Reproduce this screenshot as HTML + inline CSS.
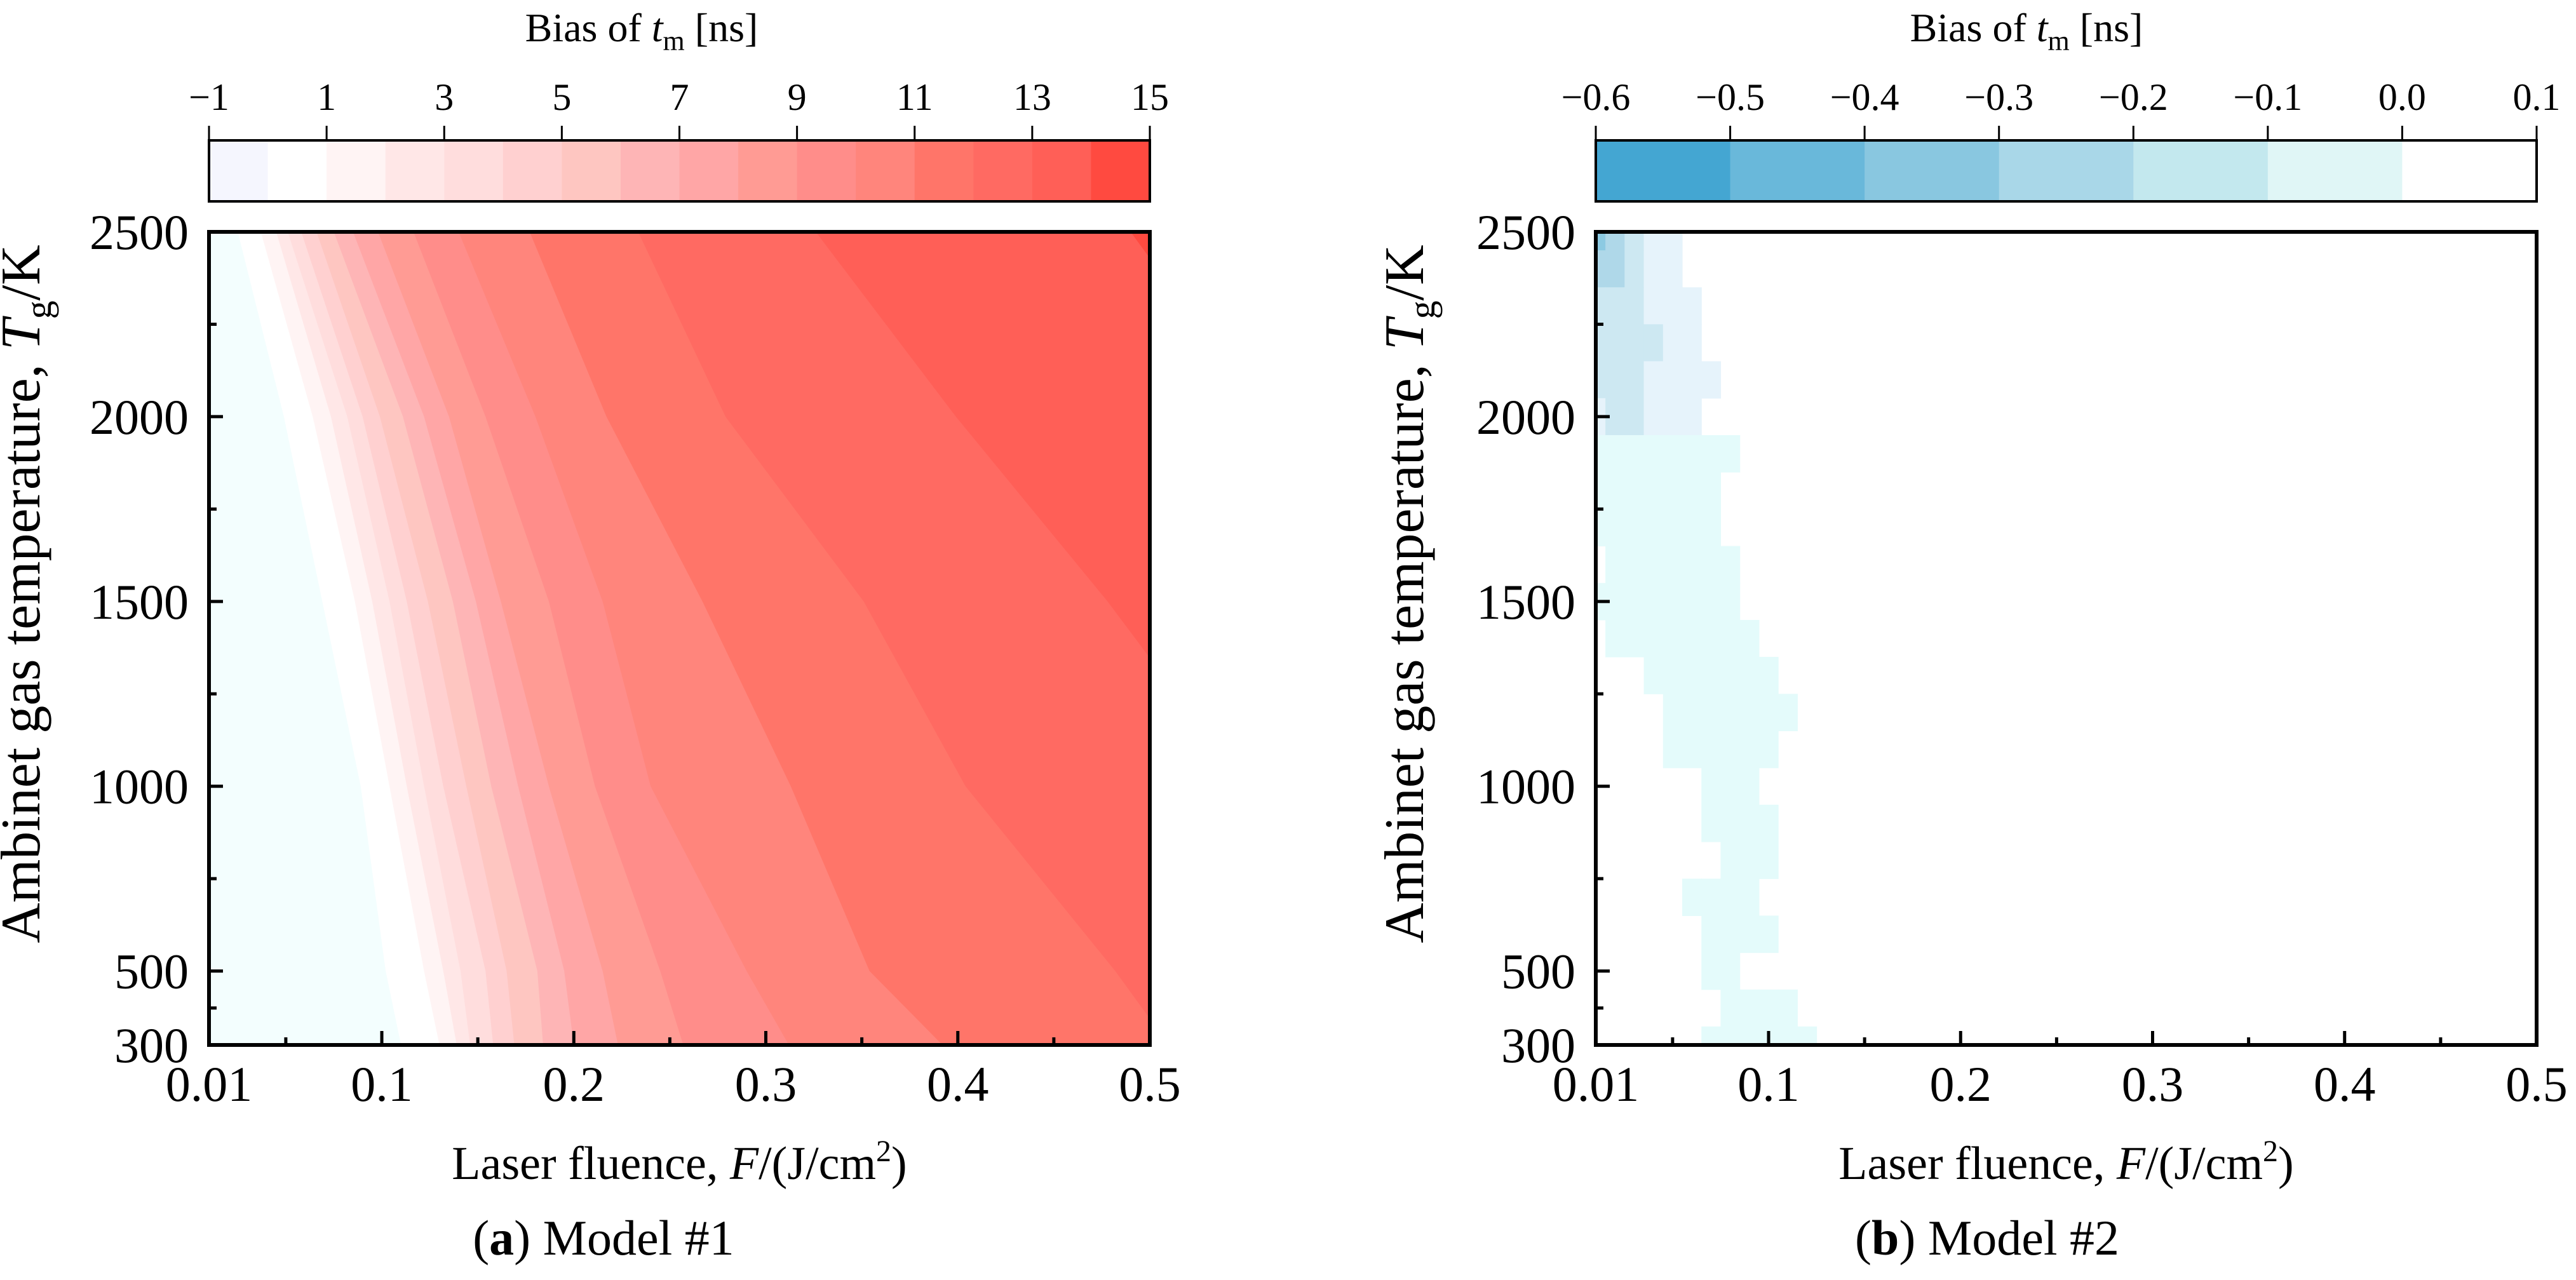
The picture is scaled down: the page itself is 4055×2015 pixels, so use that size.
<!DOCTYPE html>
<html><head><meta charset="utf-8">
<style>
html,body{margin:0;padding:0;background:#fff;}
svg{display:block;font-family:"Liberation Serif",serif;}
text{font-family:"Liberation Serif",serif;}
</style></head>
<body>
<svg id="fig" width="4055" height="2015" viewBox="0 0 4055 2015" xmlns="http://www.w3.org/2000/svg" font-family="Liberation Serif, serif">
<defs>
<clipPath id="clipL"><rect x="329" y="365" width="1481" height="1280"/></clipPath>
<clipPath id="clipR"><rect x="2512" y="365" width="1481" height="1280"/></clipPath>
</defs>
<g id="left"></g>
<g id="right"></g>
</svg>
<script>
// ---------- data: panel (a) contour boundaries ----------
const boundaryT = [2500, 2000, 1500, 1000, 500, 300];
const boundaryLevels = [0,1,2,3,4,5,6,7,8,9,10,11,12,13,14];
const b0 = [0.025,0.049,0.069,0.089,0.102,0.110];
const b1 = [0.037,0.064,0.086,0.104,0.122,0.130];
const b2 = [0.045,0.0735,0.095,0.113,0.132,0.139];
const b3 = [0.051,0.082,0.104,0.122,0.141,0.146];
const b4 = [0.058,0.090,0.113,0.132,0.154,0.158];
const b5 = [0.066,0.099,0.124,0.144,0.165,0.169];
const b6 = [0.075,0.111,0.137,0.157,0.181,0.184];
const b7 = [0.085,0.122,0.149,0.171,0.195,0.200];
const b8 = [0.098,0.135,0.162,0.187,0.215,0.223];
const b9 = [0.1165,0.154,0.187,0.211,0.245,0.257];
const b10 = [0.140,0.180,0.215,0.240,0.290,0.312];
const b11 = [0.177,0.217,0.267,0.313,0.354,0.392];
const b12 = [0.2335,0.279,0.351,0.404,0.482,0.510];
const b13 = [0.326,0.399,0.478,0.550,0.620,0.650];
const b14 = [0.490,0.560,0.630,0.700,0.770,0.800];
const boundaries = [b0,b1,b2,b3,b4,b5,b6,b7,b8,b9,b10,b11,b12,b13,b14];
const colorsA = ['#f5f6fe','#ffffff','#fff4f4','#ffe7e7','#ffdddd','#ffd0d0','#fec6c1','#feb5b6','#ffa6a6','#ff9b94','#ff8d8a','#ff857c','#ff7569','#ff6a62','#ff5f57','#ff4a40'];
const cbTicksA = [-1,1,3,5,7,9,11,13,15];
// ---------- data: panel (b) grid ----------
const fGrid = [0.01,0.02,0.03,0.04,0.05,0.06,0.07,0.08,0.09,0.10,0.11,0.12];
const tGrid = [2500,2400,2300,2200,2100,2000,1900,1800,1700,1600,1500,1400,1300,1200,1100,1000,900,800,700,600,500,400,300];
const r2500=[-0.35,-0.25,-0.15,-0.08,-0.08,0,0,0,0,0,0,0];
const r2400=[-0.3,-0.22,-0.15,-0.08,-0.08,0,0,0,0,0,0,0];
const r2300=[-0.2,-0.15,-0.15,-0.08,-0.08,-0.06,0,0,0,0,0,0];
const r2200=[-0.15,-0.12,-0.12,-0.12,-0.08,-0.08,0,0,0,0,0,0];
const r2100=[-0.15,-0.15,-0.15,-0.08,-0.08,-0.08,-0.08,0,0,0,0,0];
const r2000=[-0.08,-0.12,-0.12,-0.08,-0.08,-0.06,0,0,0,0,0,0];
const r1900=[-0.04,-0.04,-0.04,-0.04,-0.04,-0.04,-0.04,-0.04,0,0,0,0];
const r1800=[-0.04,-0.04,-0.04,-0.04,-0.04,-0.04,-0.04,0,0,0,0,0];
const r1700=[-0.04,-0.04,-0.04,-0.04,-0.04,-0.04,-0.04,0,0,0,0,0];
const r1600=[0,-0.04,-0.04,-0.04,-0.04,-0.04,-0.04,-0.04,0,0,0,0];
const r1500=[-0.04,-0.04,-0.04,-0.04,-0.04,-0.04,-0.04,-0.04,0,0,0,0];
const r1400=[0,-0.04,-0.04,-0.04,-0.04,-0.04,-0.04,-0.04,-0.04,0,0,0];
const r1300=[0,0,0,-0.04,-0.04,-0.04,-0.04,-0.04,-0.04,-0.04,0,0];
const r1200=[0,0,0,0,-0.04,-0.04,-0.04,-0.04,-0.04,-0.04,-0.04,0];
const r1100=[0,0,0,0,-0.04,-0.04,-0.04,-0.04,-0.04,-0.04,0,0];
const r1000=[0,0,0,0,0,0,-0.04,-0.04,-0.04,0,0,0];
const r900=[0,0,0,0,0,0,-0.04,-0.04,-0.04,-0.04,0,0];
const r800=[0,0,0,0,0,0,0,-0.04,-0.04,-0.04,0,0];
const r700=[0,0,0,0,0,-0.04,-0.04,-0.04,-0.04,0,0,0];
const r600=[0,0,0,0,0,0,-0.04,-0.04,-0.04,-0.04,0,0];
const r500=[0,0,0,0,0,0,-0.04,-0.04,0,0,0,0];
const r400=[0,0,0,0,0,0,0,-0.04,-0.04,-0.04,-0.04,0];
const r300=[0,0,0,0,0,0,-0.04,-0.04,-0.04,-0.04,-0.04,-0.04];
const gridB=[r2500,r2400,r2300,r2200,r2100,r2000,r1900,r1800,r1700,r1600,r1500,r1400,r1300,r1200,r1100,r1000,r900,r800,r700,r600,r500,r400,r300];
const colorsB = ['#44a6d2','#69b8da','#89c7e0','#a9d7e8','#c3e8ee','#e0f6f6','#ffffff'];
const cbTicksB = ['\u22120.6','\u22120.5','\u22120.4','\u22120.3','\u22120.2','\u22120.1','0.0','0.1'];
const xTickVals = [0.1,0.2,0.3,0.4,0.5];
const xMinorVals = [0.05,0.15,0.25,0.35,0.45];
const yTickVals = [500,1000,1500,2000,2500];
const yMinorVals = [400,750,1250,1750,2250];

const NS='http://www.w3.org/2000/svg';
const FF='Liberation Serif, serif';
function mk(tag, attrs, parent){const e=document.createElementNS(NS,tag);for(const k in attrs)e.setAttribute(k,attrs[k]);if(tag==='text')e.setAttribute('font-family',FF);parent.appendChild(e);return e;}
const YT=365, YB=1645, W=1481;
function xs(x0){return f=>x0+(f-0.01)/0.49*W;}
function ys(t){return YB-(t-300)/2200*(YB-YT);}

function axes(g,x0,cbTitleX,captionX,caption,ytitleX){
  const X=xs(x0);
  xTickVals.forEach(v=>{const l=mk('line',{x1:X(v),x2:X(v),y1:YB,y2:YB-22,stroke:'#000','stroke-width':5},g);
    });
  xMinorVals.forEach(v=>{const l=mk('line',{x1:X(v),x2:X(v),y1:YB,y2:YB-12,stroke:'#000','stroke-width':5},g);
    });
  yTickVals.forEach(v=>{const l=mk('line',{x1:x0,x2:x0+22,y1:ys(v),y2:ys(v),stroke:'#000','stroke-width':5},g);
    });
  yMinorVals.forEach(v=>{const l=mk('line',{x1:x0,x2:x0+12,y1:ys(v),y2:ys(v),stroke:'#000','stroke-width':5},g);
    });
  const fr=mk('rect',{x:x0,y:YT,width:W,height:YB-YT,fill:'none',stroke:'#000','stroke-width':6},g);
  
  const xl=['0.01'].concat(xTickVals.map(v=>String(v)));
  [0.01].concat(xTickVals).forEach((v,i)=>{const t=mk('text',{x:X(v),y:1733,'font-size':78,'text-anchor':'middle'},g);t.textContent=xl[i];
    });
  [300].concat(yTickVals).forEach(v=>{const t=mk('text',{x:x0-32,y:ys(v)+27,'font-size':78,'text-anchor':'end'},g);t.textContent=String(v);
    });
  const xt=mk('text',{x:x0+W/2,y:1856,'font-size':74,'text-anchor':'middle'},g);
  
  xt.innerHTML='Laser fluence, <tspan font-style="italic">F</tspan>/(J/cm<tspan dy="-28" font-size="48">2</tspan><tspan dy="28">)</tspan>';
  const yt=mk('text',{x:0,y:0,'font-size':88,'text-anchor':'middle',transform:'translate('+ytitleX+',935) rotate(-90)'},g);
  
  yt.innerHTML='Ambinet gas temperature, <tspan font-style="italic">T</tspan><tspan dy="18" font-size="58">g</tspan><tspan dy="-18">/K</tspan>';
  const cp=mk('text',{x:captionX,y:1975,'font-size':78,'text-anchor':'middle'},g);
  
  cp.innerHTML='(<tspan font-weight="bold">'+caption[0]+'</tspan>) '+caption[1];
  const ct=mk('text',{x:cbTitleX,y:65,'font-size':64,'text-anchor':'middle'},g);
  
  ct.innerHTML='Bias of <tspan font-style="italic">t</tspan><tspan dy="14" font-size="44">m</tspan><tspan dy="-14"> [ns]</tspan>';
}
function colorbar(g,x0,colors,ticks){
  const n=colors.length, bw=W/n;
  colors.forEach((c,i)=>{const r=mk('rect',{x:x0+i*bw,y:221,width:bw+0.5,height:96,fill:c},g);
    });
  const fr=mk('rect',{x:x0,y:221,width:W,height:96,fill:'none',stroke:'#000','stroke-width':4},g);
  
  const step=W/(ticks.length-1);
  ticks.forEach((v,i)=>{const x=x0+i*step;
    const l=mk('line',{x1:x,x2:x,y1:198,y2:221,stroke:'#000','stroke-width':3},g);
    
    const t=mk('text',{x:x,y:173,'font-size':60,'text-anchor':'middle'},g);t.textContent=typeof v==='number'?String(v).replace('-','\u2212'):v;
    });
}
(function(){
  const g=document.getElementById('left'), x0=329, X=xs(x0);
  const cg=mk('g',{'clip-path':'url(#clipL)'},g);
  
  const base=mk('rect',{x:x0,y:YT,width:W,height:YB-YT,fill:'#f3fefe'},cg);
  
  boundaries.forEach((b,k)=>{
    let pts=b.map((f,i)=>X(f)+','+ys(boundaryT[i]));
    pts.push(X(2)+','+ys(300),X(2)+','+ys(2500));
    const p=mk('polygon',{points:pts.join(' '),fill:colorsA[boundaryLevels[k]+1]},cg);
    
  });
  colorbar(g,x0,colorsA,cbTicksA);
  axes(g,x0,1010,950,['a','Model #1'],62);
})();
(function(){
  const g=document.getElementById('right'), x0=2512, X=xs(x0);
  const cg=mk('g',{'clip-path':'url(#clipR)'},g);
  
  function col(v){if(v>=0)return null;if(v>=-0.05)return '#e4fbfb';if(v>=-0.1)return '#e6f3fb';if(v>=-0.2)return '#cde8f2';if(v>=-0.3)return '#afd8e9';return '#8ccae2';}
  const cw=X(0.02)-X(0.01), ch=ys(300)-ys(400);
  gridB.forEach((row,ri)=>row.forEach((v,ci)=>{const c=col(v);if(!c)return;
    const r=mk('rect',{x:X(fGrid[ci])-cw/2,y:ys(tGrid[ri])-ch/2,width:cw+0.6,height:ch+0.6,fill:c},cg);
    }));
  colorbar(g,x0,colorsB,cbTicksB);
  axes(g,x0,3190,3128,['b','Model #2'],2240);
})();
</script>
</body></html>
